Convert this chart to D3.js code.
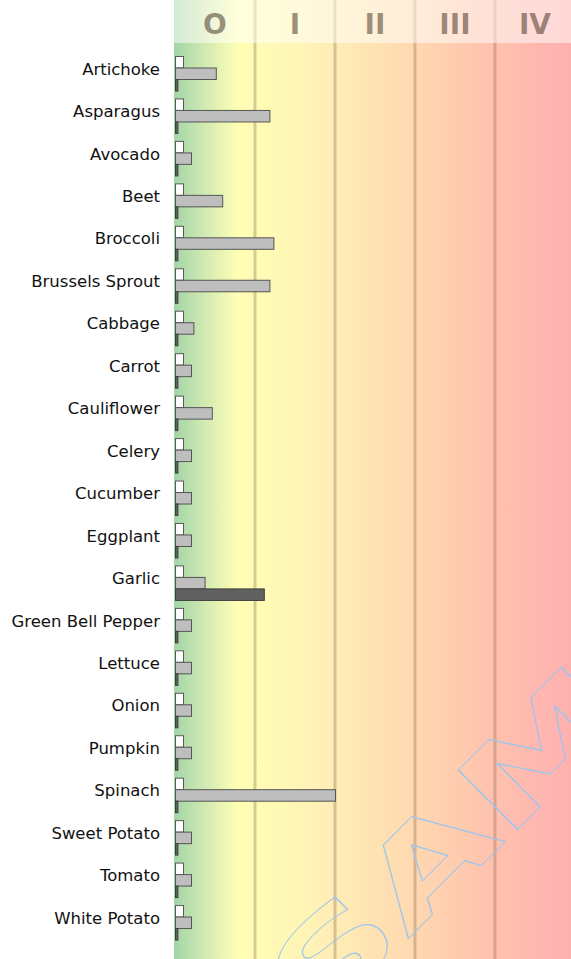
<!DOCTYPE html>
<html>
<head>
<meta charset="utf-8">
<script src="https://cdn.jsdelivr.net/npm/d3@7"></script>
<style>
  html, body { margin: 0; padding: 0; background: #fff; overflow: hidden; }
  svg { display: block; }
</style>
</head>
<body>
<svg id="chart" width="571" height="959"></svg>
<script>
// Vegetables, one row each
const categories = [
  "Artichoke", "Asparagus", "Avocado", "Beet", "Broccoli", "Brussels Sprout",
  "Cabbage", "Carrot", "Cauliflower", "Celery", "Cucumber", "Eggplant",
  "Garlic", "Green Bell Pepper", "Lettuce", "Onion", "Pumpkin", "Spinach",
  "Sweet Potato", "Tomato", "White Potato"
];

// Three measurements per vegetable, in zone units (one zone = 1.0)
const series1 = [0.1, 0.1, 0.1, 0.1, 0.1, 0.1, 0.1, 0.1, 0.1, 0.1, 0.1,
                 0.1, 0.1, 0.1, 0.1, 0.1, 0.1, 0.1, 0.1, 0.1, 0.1];
const series2 = [0.51, 1.18, 0.2, 0.59, 1.23, 1.18, 0.23, 0.2, 0.46, 0.2, 0.2,
                 0.2, 0.37, 0.2, 0.2, 0.2, 0.2, 2.0, 0.2, 0.2, 0.2];
const series3 = [0.03, 0.03, 0.03, 0.03, 0.03, 0.03, 0.03, 0.03, 0.03, 0.03, 0.03,
                 0.03, 1.11, 0.03, 0.03, 0.03, 0.03, 0.03, 0.03, 0.03, 0.03];

// Zone headings across the top
const zoneLabels = ["O", "I", "II", "III", "IV"];

const seriesKeys = ["s1", "s2", "s3"];
const seriesData = { s1: series1, s2: series2, s3: series3 };
const seriesFill = { s1: "#ffffff", s2: "#bebebe", s3: "#616161" };
const seriesStroke = { s1: "#5a5a5a", s2: "#555555", s3: "#3e3e3e" };

const W = 571, H = 959;
const plotLeft = 174, plotRight = 571;
const headerH = 43;

const svg = d3.select("#chart");

const x = d3.scaleLinear().domain([0, zoneLabels.length]).range([175, 575]);
const y = d3.scaleBand().domain(categories).range([48, 939.5]);
const sub = d3.scaleBand().domain(seriesKeys).range([8.5, 43]);

// Background gradient: green -> yellow -> orange -> red
const defs = svg.append("defs");
const grad = defs.append("linearGradient")
  .attr("id", "zoneGradient")
  .attr("gradientUnits", "userSpaceOnUse")
  .attr("x1", plotLeft).attr("x2", plotRight)
  .attr("y1", 0).attr("y2", 0);
[
  [174, "#a2d5a8"], [205, "#d2eab2"], [238, "#ffffb4"], [300, "#fff5b6"],
  [350, "#ffe9b4"], [414, "#ffd8b0"], [494, "#ffc1ae"], [571, "#ffb0b0"]
].forEach(([px, c]) => {
  grad.append("stop")
    .attr("offset", (px - plotLeft) / (plotRight - plotLeft))
    .attr("stop-color", c);
});

svg.append("rect")
  .attr("x", plotLeft).attr("y", 0)
  .attr("width", plotRight - plotLeft).attr("height", H)
  .attr("fill", "url(#zoneGradient)");

// Zone boundaries
const boundaries = zoneLabels.slice(1).map((_, i) => i + 1);
svg.append("g")
  .selectAll("line")
  .data(boundaries)
  .join("line")
  .attr("x1", d => x(d)).attr("x2", d => x(d))
  .attr("y1", 0).attr("y2", H)
  .attr("stroke", "rgb(140,110,80)")
  .attr("stroke-opacity", 0.35)
  .attr("stroke-width", 3);

// Header band with zone numerals
svg.append("rect")
  .attr("x", plotLeft).attr("y", 0)
  .attr("width", plotRight - plotLeft).attr("height", headerH)
  .attr("fill", "#ffffff")
  .attr("fill-opacity", 0.5);

svg.append("g")
  .selectAll("text")
  .data(zoneLabels)
  .join("text")
  .attr("x", (d, i) => x(i + 0.5))
  .attr("y", 34)
  .attr("text-anchor", "middle")
  .attr("font-family", "DejaVu Sans")
  .attr("font-weight", "bold")
  .attr("font-size", 28)
  .attr("fill", "rgb(60,40,25)")
  .attr("fill-opacity", 0.5)
  .text(d => d);

// Category labels
svg.append("g")
  .selectAll("text")
  .data(categories)
  .join("text")
  .attr("x", 160)
  .attr("y", d => y(d) + y.bandwidth() / 2)
  .attr("dy", "0.33em")
  .attr("text-anchor", "end")
  .attr("font-family", "DejaVu Sans")
  .attr("font-size", 16.5)
  .attr("fill", "#111")
  .text(d => d);

// Bars
const rows = categories.map((c, i) => ({ c, i }));
seriesKeys.forEach(key => {
  svg.append("g")
    .selectAll("rect")
    .data(rows)
    .join("rect")
    .attr("x", x(0) + 0.5)
    .attr("y", d => y(d.c) + sub(key))
    .attr("width", d => x(seriesData[key][d.i]) - x(0))
    .attr("height", sub.bandwidth())
    .attr("fill", seriesFill[key])
    .attr("stroke", seriesStroke[key])
    .attr("stroke-width", 1);
});

// Outlined watermark across the lower right
svg.append("g")
  .attr("transform", "translate(316.4,1030.6) rotate(-45) scale(1.56,1)")
  .append("text")
  .attr("x", 0).attr("y", 0)
  .attr("font-family", "DejaVu Sans")
  .attr("font-weight", "bold")
  .attr("font-size", 115)
  .attr("fill", "none")
  .attr("stroke", "#9cc6ee")
  .attr("stroke-width", 1.2)
  .attr("vector-effect", "non-scaling-stroke")
  .text("SAMPLE");
</script>
</body>
</html>
